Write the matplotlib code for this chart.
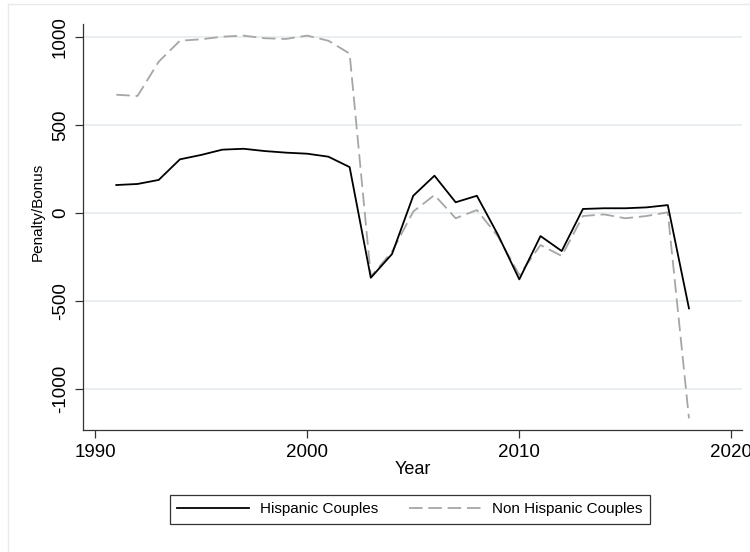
import matplotlib
matplotlib.use("Agg")
import matplotlib.pyplot as plt
from matplotlib.lines import Line2D

years = list(range(1991, 2019))
hispanic = [159, 165, 188, 305, 330, 360, 365, 352, 343, 337, 320, 261,
            -368, -233, 98, 212, 61, 98, -125, -377, -131, -216, 23, 27, 27, 32, 45, -542]
non_hispanic = [672, 665, 860, 979, 987, 1002, 1008, 993, 989, 1008, 979, 906,
                -360, -220, 8, 102, -30, 17, -134, -352, -182, -244, -17, -8, -30, -17, 4, -1167]
xticks = [1990, 2000, 2010, 2020]
yticks = [-1000, -500, 0, 500, 1000]

plt.rcParams['font.family'] = ['Liberation Sans', 'DejaVu Sans']

fig = plt.figure(figsize=(7.5, 5.52), dpi=100)
ax = fig.add_axes([83/750, 1-430/552, (742-83)/750, (430-24)/552])

ax.plot(years, hispanic, color='black', lw=1.3, label='Hispanic Couples', zorder=3)
ax.plot(years, non_hispanic, color='#a6a6a6', lw=1.3, dashes=(7.5, 3.2),
        label='Non Hispanic Couples', zorder=2)

ax.set_xlim(1989.43, 2020.5)
ax.set_ylim(-1233, 1074)
ax.set_xticks(xticks)
ax.set_yticks(yticks)
ax.set_yticklabels([str(v) for v in yticks], rotation=90, va='center')
ax.tick_params(labelsize=13.5, length=6, color='#333333', width=0.9)
ax.tick_params(axis='y', pad=4)
ax.tick_params(axis='x', pad=4)
ax.grid(axis='y', color='#e3ebee', lw=1.1, zorder=0)
ax.set_axisbelow(True)
for s in ['top', 'right']:
    ax.spines[s].set_visible(False)
for s in ['left', 'bottom']:
    ax.spines[s].set_color('#333333')
    ax.spines[s].set_linewidth(0.9)

ax.set_xlabel('Year', fontsize=13, labelpad=0)
ax.set_ylabel('Penalty/Bonus', fontsize=11)
ax.yaxis.set_label_coords((45-83)/659, (430-212)/406)

leg = fig.legend(loc='center', bbox_to_anchor=(410/750, 1-509.5/552), ncol=2,
                 fontsize=11, frameon=True, fancybox=False, handlelength=4.7,
                 columnspacing=2.0, borderpad=0.5, handletextpad=0.75,
                 edgecolor='black', borderaxespad=0)
leg.get_frame().set_linewidth(0.9)

# faint outer graph-region border
fig.add_artist(Line2D([8/750, 8/750], [0, 1-4/552], transform=fig.transFigure,
                      color='#e6eaec', lw=1))
fig.add_artist(Line2D([8/750, 1], [1-4/552, 1-4/552], transform=fig.transFigure,
                      color='#e6eaec', lw=1))

fig.savefig('out.png', dpi=100)
